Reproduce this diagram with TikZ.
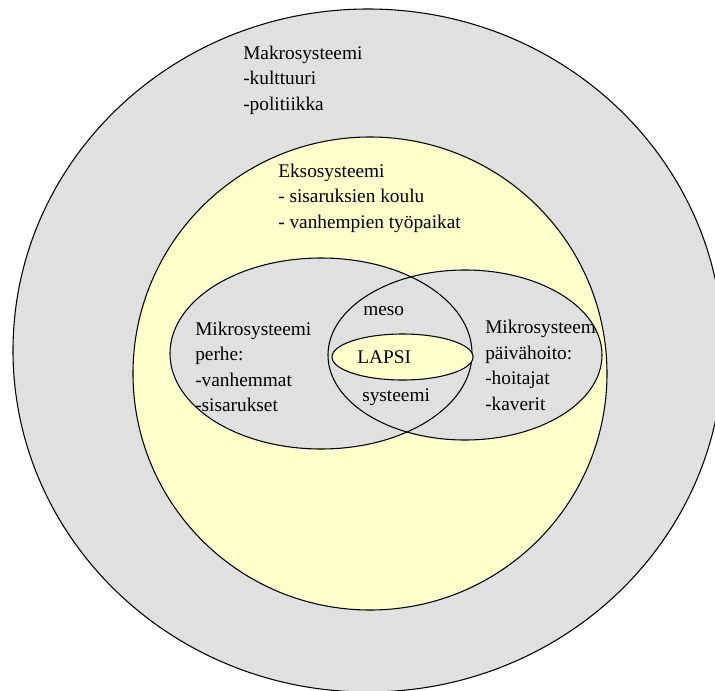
\documentclass[tikz,border=0pt]{standalone}
\usepackage{fontspec}
\setmainfont{Liberation Serif}
\definecolor{systemgray}{RGB}{224,224,224}
\definecolor{systemyellow}{RGB}{255,255,204}

\begin{document}
\begin{tikzpicture}[x=0.75pt, y=-0.75pt,
    ring/.style={draw=black, line width=0.8pt},
    txt/.style={font=\fontsize{14.5}{19.1}\selectfont, align=left, inner sep=0pt, anchor=north west},
    word/.style={font=\fontsize{14.5}{19.1}\selectfont, inner sep=0pt, anchor=base west}]
  \useasboundingbox (0,0) rectangle (715,690);

  % Draw the outer systems
  \filldraw[ring, fill=systemgray] (368,350.5) ellipse [x radius=355, y radius=341.5];
  \filldraw[ring, fill=systemyellow] (370,373.5) ellipse [x radius=237, y radius=236.5];

  % Draw the two micro systems, fill first so both arcs of the overlap show
  \fill[systemgray] (321,353.5) ellipse [x radius=151, y radius=95.5];
  \fill[systemgray] (465,355) ellipse [x radius=137, y radius=85];
  \draw[ring] (321,353.5) ellipse [x radius=151, y radius=95.5];
  \draw[ring] (465,355) ellipse [x radius=137, y radius=85];

  % The child in the middle
  \filldraw[ring, fill=systemyellow] (402.5,357) ellipse [x radius=70.5, y radius=23];

  % Labels
  \node[txt] (makro) at (243,45.8) {Makrosysteemi\\-kulttuuri\\-politiikka};
  \node[txt] (ekso) at (278,163.8) {Eksosysteemi\\- sisaruksien koulu\\- vanhempien työpaikat};
  \node[txt] (perhe) at (195,321.8) {Mikrosysteemi\\perhe:\\-vanhemmat\\-sisarukset};
  \begin{scope}
    \clip (465,355) ellipse [x radius=137, y radius=85];
    \node[txt] (hoito) at (485,320) {Mikrosysteemi\\päivähoito:\\-hoitajat\\-kaverit};
  \end{scope}
  \node[word] (meso) at (363,315) {meso};
  \node[word] (lapsi) at (357,363) {LAPSI};
  \node[word] (systeemi) at (362,401.5) {systeemi};
\end{tikzpicture}
\end{document}
